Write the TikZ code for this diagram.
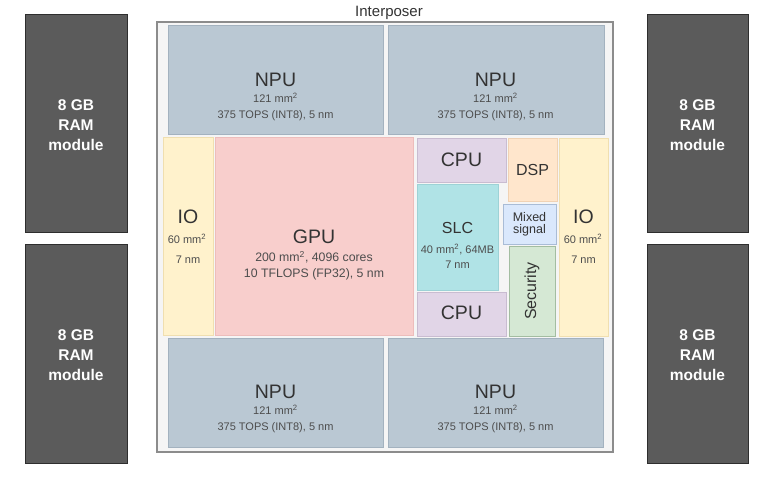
\documentclass[tikz,border=0pt]{standalone}
\usepackage{fontspec}
\setmainfont{Liberation Sans}
\usetikzlibrary{fit}
\definecolor{npuF}{HTML}{BAC8D3}\definecolor{npuD}{HTML}{A3B2BF}
\definecolor{gpuF}{HTML}{F8CECC}\definecolor{gpuD}{HTML}{EDBDBB}
\definecolor{ioF}{HTML}{FFF2CC}\definecolor{ioD}{HTML}{F0DFB0}
\definecolor{cpuF}{HTML}{E1D5E7}\definecolor{cpuD}{HTML}{C9BCD1}
\definecolor{slcF}{HTML}{B0E3E6}\definecolor{slcD}{HTML}{9DD2D6}
\definecolor{dspF}{HTML}{FFE6CC}\definecolor{dspD}{HTML}{F0D2B4}
\definecolor{mixF}{HTML}{DAE8FC}\definecolor{mixD}{HTML}{A9BCD6}
\definecolor{secF}{HTML}{D5E8D4}\definecolor{secD}{HTML}{A3BDA1}
\definecolor{ramF}{HTML}{5B5B5B}\definecolor{ramD}{HTML}{2E2E2E}
\definecolor{intF}{HTML}{F5F5F5}\definecolor{intD}{HTML}{8C8C8C}
\definecolor{txt}{HTML}{333333}\definecolor{subtxt}{HTML}{4D4D4D}
\tikzset{
  x=1pt, y=-1pt,
  blk/.style={inner sep=0pt, outer sep=0pt, line width=0.8pt},
  npu/.style={blk, draw=npuD, fill=npuF},
  gpu/.style={blk, draw=gpuD, fill=gpuF},
  iobox/.style={blk, draw=ioD, fill=ioF},
  cpu/.style={blk, draw=cpuD, fill=cpuF},
  slc/.style={blk, draw=slcD, fill=slcF},
  dsp/.style={blk, draw=dspD, fill=dspF},
  mix/.style={blk, draw=mixD, fill=mixF},
  sec/.style={blk, draw=secD, fill=secF},
  ram/.style={blk, draw=ramD, fill=ramF},
  inter/.style={blk, draw=intD, fill=intF, line width=2.5pt},
  ttl/.style={inner sep=0pt, anchor=base, text=txt, font=\fontsize{19.5}{22}\selectfont},
  mid/.style={inner sep=0pt, anchor=base, text=txt, font=\fontsize{16}{19}\selectfont},
  sub/.style={inner sep=0pt, anchor=base, text=subtxt, font=\fontsize{11}{13}\selectfont},
  gsub/.style={inner sep=0pt, anchor=base, text=subtxt, font=\fontsize{12.3}{14}\selectfont},
  ramtxt/.style={inner sep=0pt, anchor=base, text=white, font=\bfseries\fontsize{15.5}{18}\selectfont},
}
\newcommand{\mmsq}{mm\textsuperscript{2}}
\begin{document}
\begin{tikzpicture}
\useasboundingbox (0,0) rectangle (768,477);
% RAM modules
\node[ram, fit={(25,14) (127,232)}] (ramL1) {};
\node[ram, fit={(25,244) (127,463)}] (ramL2) {};
\node[ram, fit={(647,14) (748,232)}] (ramR1) {};
\node[ram, fit={(647,244) (748,463)}] (ramR2) {};
\foreach \nm/\cx/\by in {L1/76/110, L2/76/340, R1/697.5/110, R2/697.5/340}{
  \node[ramtxt] (ram\nm a) at (\cx,\by) {8 GB};
  \node[ramtxt] (ram\nm b) at (\cx,\by+20) {RAM};
  \node[ramtxt] (ram\nm c) at (\cx,\by+40) {module};
}
% Interposer
\node[inter, fit={(157,22) (613,452)}] (inter) {};
\node[inner sep=0pt, anchor=base, text=txt, font=\fontsize{15}{18}\selectfont] (interlbl) at (389,16.5) {Interposer};
% NPUs
\node[npu, fit={(168,25) (383,134)}] (npu1) {};
\node[npu, fit={(388,25) (604,134)}] (npu2) {};
\node[npu, fit={(168,338) (383,447)}] (npu3) {};
\node[npu, fit={(388,338) (603,447)}] (npu4) {};
\foreach \nm/\cx/\by in {1/275.5/86, 2/495.5/86, 3/275.5/398, 4/495.5/398}{
  \node[ttl] (npu\nm t) at (\cx,\by) {NPU};
  \node[sub] (npu\nm a) at (\cx,\by+16) {121 \mmsq};
  \node[sub] (npu\nm b) at (\cx,\by+32) {375 TOPS (INT8), 5 nm};
}
% IO left
\node[iobox, fit={(163,137) (213,335)}] (ioL) {};
\node[ttl] (ioLt) at (188,223) {IO};
\node[sub] (ioLa) at (187,243) {60 \mmsq};
\node[sub] (ioLb) at (188,263) {7 nm};
% GPU
\node[gpu, fit={(215,137) (413,335)}] (gpu) {};
\node[ttl] (gput) at (314,243) {GPU};
\node[gsub] (gpua) at (314,261.5) {200 \mmsq, 4096 cores};
\node[gsub] (gpub) at (314,277) {10 TFLOPS (FP32), 5 nm};
% CPUs
\node[cpu, fit={(417,138) (506,182)}] (cpu1) {};
\node[ttl] (cpu1t) at (461.5,166) {CPU};
\node[cpu, fit={(417,292) (506,336)}] (cpu2) {};
\node[ttl] (cpu2t) at (461.5,319) {CPU};
% SLC
\node[slc, fit={(417,184) (498,290)}] (slc) {};
\node[mid] (slct) at (457.5,233) {SLC};
\node[sub] (slca) at (457.5,253) {40 \mmsq, 64MB};
\node[sub] (slcb) at (457.5,268) {7 nm};
% DSP
\node[dsp, fit={(508,138) (557,201)}] (dsp) {};
\node[mid] (dspt) at (532.5,175) {DSP};
% Mixed signal
\node[mix, fit={(503,204) (556,244)}] (mix) {};
\node[inner sep=0pt, anchor=base, text=txt, font=\fontsize{12.5}{14}\selectfont] (mixa) at (529.5,221.5) {Mixed};
\node[inner sep=0pt, anchor=base, text=txt, font=\fontsize{12.5}{14}\selectfont] (mixb) at (529.5,233.3) {signal};
% Security
\node[sec, fit={(509,246) (555,336)}] (sec) {};
\node[inner sep=0pt, rotate=90, text=txt, font=\fontsize{16}{19}\selectfont] (sect) at (532,291) {Security};
% IO right
\node[iobox, fit={(559,138) (608,336)}] (ioR) {};
\node[ttl] (ioRt) at (583.5,223) {IO};
\node[sub] (ioRa) at (583,243) {60 \mmsq};
\node[sub] (ioRb) at (583.5,263) {7 nm};
\end{tikzpicture}
\end{document}
